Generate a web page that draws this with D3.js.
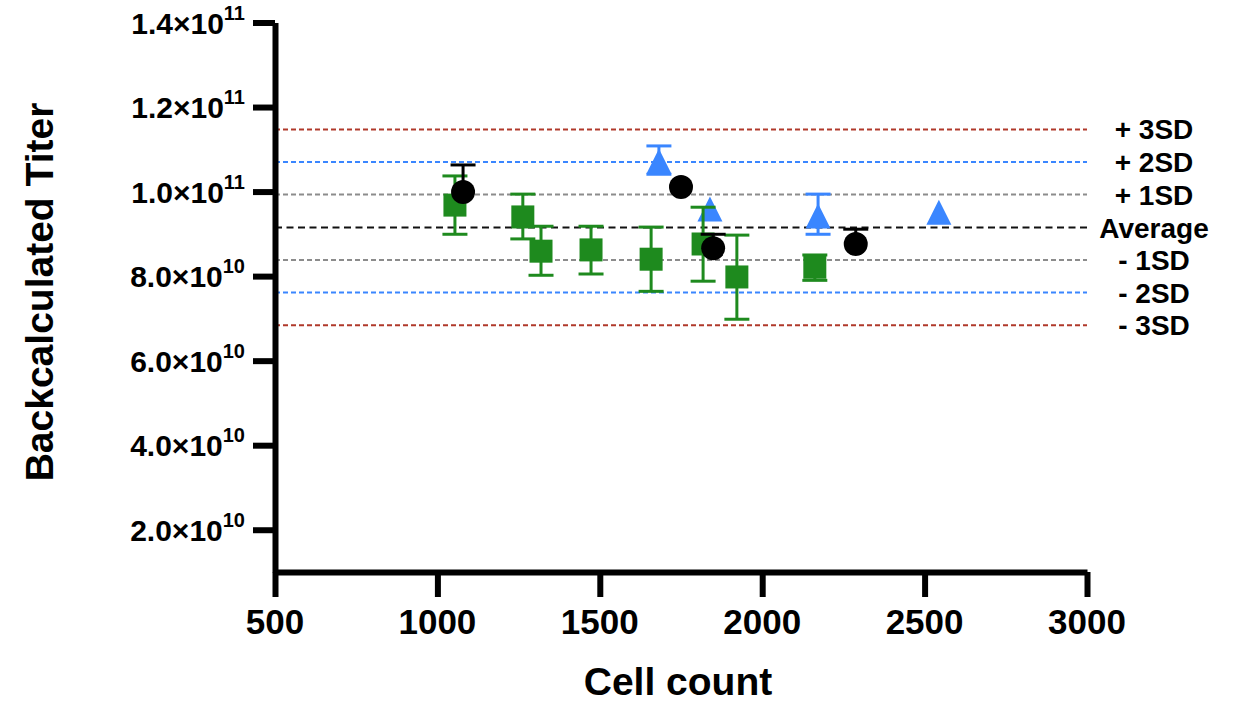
<!DOCTYPE html>
<html>
<head>
<meta charset="utf-8">
<script src="https://cdn.jsdelivr.net/npm/d3@7"></script>
<style>
  body { margin: 0; background: #fff; }
  text { font-family: "Liberation Sans", Arial, Helvetica, sans-serif; font-weight: bold; }
</style>
</head>
<body>
<div id="chart"></div>
<script>
// Values
var xTicks = [500, 1000, 1500, 2000, 2500, 3000]
var yTicks = [2e10, 4e10, 6e10, 8e10, 1e11, 1.2e11, 1.4e11]

// green squares
var greenPts = [
  {x: 1054, y: 9.68e10, lo: 8.99e10, hi: 1.037e11},
  {x: 1263, y: 9.40e10, lo: 8.88e10, hi: 9.94e10},
  {x: 1319, y: 8.59e10, lo: 8.02e10, hi: 9.18e10},
  {x: 1473, y: 8.62e10, lo: 8.05e10, hi: 9.18e10},
  {x: 1658, y: 8.40e10, lo: 7.64e10, hi: 9.16e10},
  {x: 1818, y: 8.76e10, lo: 7.88e10, hi: 9.63e10},
  {x: 1922, y: 7.98e10, lo: 6.98e10, hi: 8.97e10},
  {x: 2162, y: 8.21e10, lo: 7.90e10, hi: 8.50e10}
]
// blue triangles
var bluePts = [
  {x: 1682, y: 1.072e11, lo: 1.041e11, hi: 1.108e11},
  {x: 1839, y: 9.59e10, lo: 9.59e10, hi: 9.59e10},
  {x: 2172, y: 9.42e10, lo: 8.99e10, hi: 9.94e10},
  {x: 2544, y: 9.51e10, lo: 9.51e10, hi: 9.51e10}
]
// black circles (only the upper bar shows)
var blackPts = [
  {x: 1079, y: 9.99e10, lo: 9.99e10, hi: 1.063e11},
  {x: 1750, y: 1.011e11, lo: 1.011e11, hi: 1.011e11},
  {x: 1849, y: 8.66e10, lo: 8.66e10, hi: 8.99e10},
  {x: 2288, y: 8.76e10, lo: 8.76e10, hi: 9.11e10}
]

// average +/- SD lines
var refLabels = ["+ 3SD", "+ 2SD", "+ 1SD", "Average", "- 1SD", "- 2SD", "- 3SD"]
var refValues = [1.147e11, 1.070e11, 0.993e11, 0.915e11, 0.838e11, 0.761e11, 0.684e11]
var refColors = ["#b0392b", "#3a86ff", "#8c8c8c", "#111111", "#8c8c8c", "#3a86ff", "#b0392b"]

var width = 1238, height = 702

var svg = d3.select("#chart")
  .append("svg")
  .attr("width", width)
  .attr("height", height)

var x = d3.scaleLinear().domain([500, 3000]).range([275, 1087])
var y = d3.scaleLinear().domain([1e10, 1.4e11]).range([572, 22.5])

// reference lines
refValues.forEach(function (v, i) {
  var isAvg = refLabels[i] == "Average"
  svg.append("line")
    .attr("x1", x(500)).attr("x2", x(3000))
    .attr("y1", y(v)).attr("y2", y(v))
    .attr("stroke", refColors[i])
    .attr("stroke-width", 2)
    .attr("stroke-dasharray", isAvg ? "7,4.5" : "5,3")
  svg.append("text")
    .attr("x", 1154)
    .attr("y", y(v) + 10)
    .attr("text-anchor", "middle")
    .attr("font-size", 28)
    .text(refLabels[i])
})

// y axis
var yAxis = svg.append("g")
  .attr("transform", "translate(" + x(500) + ",0)")
  .call(d3.axisLeft(y).tickValues(yTicks).tickSize(22).tickSizeOuter(0).tickFormat(""))
yAxis.select(".domain").attr("stroke-width", 6)
yAxis.selectAll(".tick line").attr("stroke-width", 6)

yTicks.forEach(function (v) {
  var exp = Math.floor(Math.log10(v))
  var mant = (v / Math.pow(10, exp)).toFixed(1)
  var t = svg.append("text")
    .attr("x", 245)
    .attr("y", y(v) + 11)
    .attr("text-anchor", "end")
    .attr("font-size", 30)
  t.append("tspan").text(mant + "×10")
  t.append("tspan").attr("dy", -14).attr("font-size", 20).text(exp)
})

// x axis
var xAxis = svg.append("g")
  .attr("transform", "translate(0," + y(1e10) + ")")
  .call(d3.axisBottom(x).tickValues(xTicks).tickSize(25).tickSizeOuter(0).tickFormat(""))
xAxis.select(".domain").attr("stroke-width", 6)
xAxis.selectAll(".tick line").attr("stroke-width", 6)

xTicks.forEach(function (v) {
  svg.append("text")
    .attr("x", x(v))
    .attr("y", 634)
    .attr("text-anchor", "middle")
    .attr("font-size", 35)
    .text(v)
})

// axis titles
svg.append("text")
  .attr("x", 678).attr("y", 695)
  .attr("text-anchor", "middle")
  .attr("font-size", 39)
  .text("Cell count")

svg.append("text")
  .attr("transform", "translate(53,292) rotate(-90)")
  .attr("text-anchor", "middle")
  .attr("font-size", 39)
  .text("Backcalculated Titer")

// error bars + symbols
function errorBars(data, color) {
  var g = svg.append("g").attr("stroke", color).attr("stroke-width", 3)
  data.forEach(function (d) {
    if (d.hi == d.lo) return
    g.append("line").attr("x1", x(d.x)).attr("x2", x(d.x)).attr("y1", y(d.hi)).attr("y2", y(d.lo))
    g.append("line").attr("x1", x(d.x) - 12.5).attr("x2", x(d.x) + 12.5).attr("y1", y(d.hi)).attr("y2", y(d.hi))
    if (d.lo < d.y) {
      g.append("line").attr("x1", x(d.x) - 12.5).attr("x2", x(d.x) + 12.5).attr("y1", y(d.lo)).attr("y2", y(d.lo))
    }
  })
}

errorBars(bluePts, "#3a86ff")
svg.selectAll(".tri")
  .data(bluePts)
  .enter()
  .append("path")
  .attr("class", "tri")
  .attr("d", "M0,-12.5L12.5,12.5L-12.5,12.5Z")
  .attr("fill", "#3a86ff")
  .attr("transform", function (d) { return "translate(" + x(d.x) + "," + y(d.y) + ")" })

errorBars(greenPts, "#1e8a1e")
svg.selectAll(".sq")
  .data(greenPts)
  .enter()
  .append("rect")
  .attr("class", "sq")
  .attr("x", function (d) { return x(d.x) - 11.5 })
  .attr("y", function (d) { return y(d.y) - 11.5 })
  .attr("width", 23).attr("height", 23)
  .attr("fill", "#1e8a1e")

errorBars(blackPts, "#000")
svg.selectAll(".dot")
  .data(blackPts)
  .enter()
  .append("circle")
  .attr("class", "dot")
  .attr("cx", function (d) { return x(d.x) })
  .attr("cy", function (d) { return y(d.y) })
  .attr("r", 12)
  .attr("fill", "#000")
</script>
</body>
</html>
